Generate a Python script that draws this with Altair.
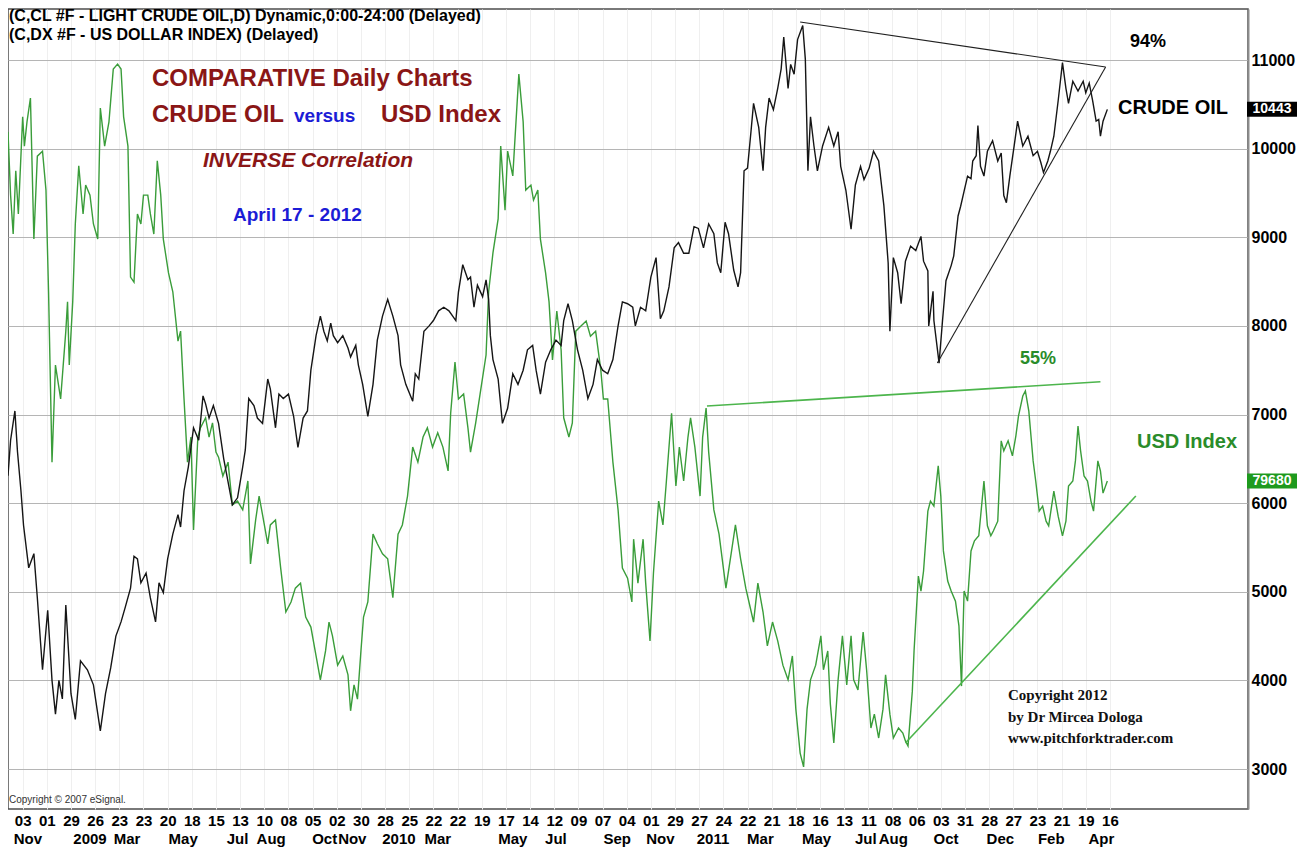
import json
import altair as alt
import pandas as pd

# ---------------- data ----------------
# day = calendar days after 2008-11-03 (first x-axis tick)
crude_day = [-17, -14, -9, -6, -2, 1, 7, 13, 17, 23,
             29, 34, 38, 42, 46, 50, 56, 61, 67, 75,
             82, 90, 96, 102, 108, 114, 119, 125, 129, 133,
             137, 143, 148, 154, 158, 163, 168, 174, 180, 183,
             187, 192, 198, 204, 209, 212, 216, 221, 227, 233,
             239, 243, 249, 255, 258, 262, 268, 272, 278, 284,
             287, 293, 297, 302, 308, 314, 319, 325, 330, 334,
             340, 345, 349, 353, 357, 360, 365, 371, 377, 380,
             386, 389, 394, 400, 406, 411, 417, 423, 429, 435,
             438, 444, 452, 455, 459, 465, 471, 476, 482, 488,
             494, 502, 505, 510, 516, 519, 523, 527, 533, 537,
             540, 542, 545, 551, 556, 562, 568, 574, 580, 585,
             591, 595, 600, 606, 612, 618, 624, 627, 632, 637,
             643, 649, 655, 661, 666, 672, 678, 684, 690, 695,
             701, 707, 710, 716, 722, 728, 734, 739, 743, 749,
             755, 760, 766, 772, 778, 783, 789, 795, 801, 805,
             809, 814, 818, 824, 829, 832, 836, 840, 844, 847,
             853, 858, 861, 865, 870, 875, 879, 882, 887, 890,
             894, 898, 904, 907, 910, 913, 917, 921, 927, 934,
             940, 945, 948, 954, 960, 965, 971, 975, 981, 986,
             992, 998, 1003, 1005, 1009, 1014, 1018, 1023, 1029, 1035,
             1041, 1044, 1049, 1050, 1055, 1056, 1062, 1066, 1070, 1076,
             1079, 1084, 1087, 1091, 1095, 1099, 1101, 1105, 1107, 1110,
             1114, 1118, 1124, 1130, 1134, 1137, 1140, 1144, 1149, 1153,
             1159, 1165, 1171, 1176, 1180, 1183, 1188, 1191, 1195, 1200,
             1205, 1209, 1212, 1217, 1223, 1229, 1232, 1236, 1240, 1244,
             1247, 1249, 1252, 1257]
crude_price = [63.1, 67.1, 70.4, 65.8, 61.4, 57.5, 52.7, 54.3, 49.3, 41.2,
               47.9, 40.0, 36.2, 40.0, 37.9, 48.5, 38.5, 35.6, 42.2, 41.2,
               39.5, 34.3, 38.5, 41.4, 45.0, 46.6, 48.3, 50.4, 54.0, 53.7,
               51.0, 52.1, 49.3, 46.6, 51.0, 49.9, 53.7, 56.5, 58.7, 57.3,
               61.4, 64.1, 68.5, 67.1, 72.1, 71.2, 69.6, 71.0, 69.0, 65.0,
               61.9, 59.8, 60.6, 64.1, 66.0, 71.8, 71.0, 69.6, 69.0, 74.0,
               72.9, 68.5, 72.3, 71.8, 72.3, 69.8, 66.3, 69.6, 70.4, 75.0,
               78.9, 81.1, 79.4, 78.3, 80.3, 78.9, 78.1, 78.9, 77.5, 76.5,
               77.8, 75.6, 73.4, 69.8, 73.4, 78.4, 81.1, 83.0, 81.1, 78.9,
               75.6, 73.4, 71.5, 74.6, 74.0, 79.4, 80.0, 80.6, 81.7, 82.1,
               81.7, 80.6, 83.8, 86.9, 85.2, 85.5, 82.1, 84.6, 83.3, 85.2,
               83.0, 78.9, 76.2, 74.0, 69.0, 70.7, 74.6, 73.4, 75.0, 77.3,
               77.8, 75.0, 72.3, 75.9, 77.3, 78.4, 77.8, 80.6, 82.5, 80.6,
               77.3, 75.0, 71.8, 73.4, 76.2, 75.0, 74.6, 76.2, 80.0, 82.7,
               82.5, 82.1, 80.0, 82.1, 81.7, 85.5, 87.7, 80.8, 81.7, 84.4,
               88.8, 89.4, 88.2, 88.2, 91.2, 91.0, 88.8, 91.5, 90.4, 87.1,
               86.0, 91.7, 90.4, 86.3, 84.4, 86.0, 97.5, 97.8, 101.9, 105.1,
               102.4, 97.5, 102.4, 105.7, 104.4, 106.8, 109.0, 112.6, 106.8, 109.5,
               108.4, 112.3, 113.9, 110.1, 97.5, 103.6, 100.3, 97.5, 100.3, 102.4,
               100.3, 101.9, 98.0, 95.3, 90.9, 95.9, 98.0, 96.5, 97.8, 99.7,
               98.6, 93.6, 87.1, 79.4, 87.7, 86.0, 82.5, 87.3, 89.0, 88.5,
               90.1, 87.3, 86.2, 80.0, 83.9, 80.6, 75.8, 80.6, 85.1, 86.8,
               87.9, 92.4, 93.5, 95.2, 96.9, 96.6, 98.6, 99.2, 102.6, 98.0,
               96.9, 99.7, 100.9, 98.6, 99.5, 94.7, 93.9, 96.9, 100.3, 103.1,
               100.3, 101.4, 99.2, 99.7, 98.4, 97.3, 98.6, 99.7, 101.4, 105.4,
               109.7, 106.8, 105.1, 107.6, 106.5, 107.6, 106.3, 107.4, 105.4, 103.1,
               103.3, 101.4, 103.1, 104.43]

usd_day = [-17, -14, -11, -8, -5, 0, 2, 5, 9, 13,
           17, 23, 27, 30, 34, 38, 44, 50, 52, 54,
           58, 61, 65, 70, 73, 78, 82, 87, 90, 95,
           100, 105, 110, 114, 117, 122, 125, 129, 133, 137,
           140, 145, 148, 152, 156, 160, 163, 169, 174, 180,
           183, 187, 191, 195, 198, 203, 206, 212, 216, 220,
           224, 227, 232, 238, 243, 249, 255, 261, 264, 270,
           274, 278, 284, 287, 293, 299, 305, 311, 316, 322,
           328, 334, 340, 345, 351, 355, 359, 365, 371, 377,
           380, 384, 388, 392, 395, 400, 406, 411, 417, 423,
           429, 435, 440, 446, 452, 458, 464, 469, 475, 481,
           487, 493, 496, 501, 505, 511, 516, 519, 525, 531,
           537, 540, 545, 551, 554, 559, 562, 568, 571, 575,
           580, 583, 589, 592, 597, 600, 606, 610, 614, 619,
           624, 627, 633, 637, 641, 647, 653, 658, 664, 670,
           673, 678, 684, 690, 695, 701, 706, 708, 713, 719,
           722, 727, 731, 737, 742, 746, 752, 757, 761, 766,
           771, 774, 779, 785, 788, 792, 795, 801, 807, 815,
           821, 826, 832, 838, 843, 847, 852, 858, 863, 869,
           875, 881, 887, 892, 896, 901, 905, 909, 913, 919,
           925, 928, 933, 936, 940, 945, 950, 955, 960, 963,
           968, 974, 978, 983, 987, 992, 997, 1000, 1005, 1009,
           1015, 1020, 1023, 1026, 1031, 1033, 1038, 1041, 1044, 1049,
           1052, 1056, 1061, 1064, 1067, 1072, 1076, 1081, 1085, 1088,
           1091, 1095, 1099, 1103, 1108, 1114, 1118, 1122, 1125, 1130,
           1134, 1137, 1142, 1147, 1151, 1154, 1159, 1162, 1166, 1171,
           1174, 1178, 1182, 1186, 1189, 1195, 1200, 1205, 1209, 1212,
           1217, 1220, 1223, 1226, 1230, 1234, 1238, 1241, 1246, 1249,
           1252, 1257]
usd_value = [88.02, 86.51, 85.58, 87.09, 86.06, 88.38, 87.68, 88.26, 88.83, 85.46,
             87.44, 87.56, 86.63, 84.20, 80.13, 82.45, 81.64, 83.26, 83.96, 82.45,
             83.96, 85.82, 87.21, 86.06, 86.75, 86.51, 85.82, 85.46, 88.59, 87.68,
             88.26, 89.52, 89.64, 89.52, 88.38, 87.68, 84.55, 84.43, 86.06, 85.82,
             86.51, 86.51, 86.06, 85.58, 87.33, 86.51, 85.46, 84.65, 84.20, 83.02,
             83.26, 81.64, 80.13, 80.73, 78.51, 80.73, 80.95, 81.19, 80.73, 81.07,
             80.37, 80.25, 79.80, 80.13, 79.11, 79.20, 78.99, 79.68, 77.70, 78.75,
             79.32, 78.87, 78.18, 78.63, 78.75, 77.60, 76.55, 76.79, 77.12, 77.24,
             76.43, 76.19, 75.50, 74.93, 75.62, 76.31, 75.98, 75.28, 75.50, 75.05,
             74.19, 74.81, 74.47, 75.62, 76.43, 76.79, 78.41, 78.18, 77.94, 77.82,
             76.89, 78.41, 78.63, 79.32, 80.49, 80.13, 80.73, 80.95, 80.49, 80.83,
             80.49, 79.92, 81.30, 82.52, 81.64, 81.76, 80.95, 80.37, 81.07, 81.88,
             82.69, 84.20, 85.13, 85.94, 87.68, 86.15, 87.56, 86.97, 88.02, 89.40,
             88.26, 86.63, 86.75, 86.39, 86.63, 85.46, 84.65, 83.96, 82.57, 83.74,
             82.81, 81.19, 80.73, 81.07, 83.26, 83.38, 83.50, 83.14, 83.26, 82.33,
             81.64, 81.64, 80.13, 78.99, 77.60, 77.36, 76.79, 78.29, 77.24, 78.29,
             77.24, 75.86, 77.48, 79.20, 78.63, 79.68, 81.30, 79.56, 80.49, 79.68,
             80.73, 81.19, 80.49, 79.32, 80.73, 81.42, 80.37, 78.99, 78.41, 77.12,
             77.94, 78.63, 77.82, 77.12, 76.67, 76.31, 77.24, 76.55, 75.74, 76.31,
             75.86, 75.28, 74.93, 75.50, 74.23, 73.18, 72.85, 74.23, 74.93, 75.28,
             75.98, 75.17, 75.62, 74.35, 73.42, 74.93, 75.98, 74.81, 75.98, 74.93,
             74.69, 76.07, 75.17, 73.78, 74.11, 73.54, 74.23, 75.05, 74.11, 73.54,
             73.78, 73.66, 73.47, 73.35, 74.66, 75.62, 77.41, 77.05, 77.53, 78.96,
             79.20, 79.08, 80.04, 79.32, 78.01, 77.29, 77.05, 76.81, 76.22, 74.78,
             77.05, 76.81, 78.01, 78.25, 78.37, 79.68, 78.61, 78.37, 78.49, 78.72,
             80.64, 80.40, 80.64, 80.28, 80.76, 81.23, 81.71, 81.83, 81.35, 80.16,
             79.68, 78.96, 79.08, 78.72, 78.61, 79.44, 78.84, 78.37, 78.72, 79.56,
             79.68, 80.16, 80.99, 80.40, 79.80, 79.68, 79.20, 78.96, 80.16, 79.92,
             79.39, 79.68]

# trend lines drawn on the chart (endpoints)
crude_trend_seg = ["top", "top", "rising", "rising"]
crude_trend_day = [901, 1255, 1060, 1255]
crude_trend_price = [114.29, 109.21, 75.81, 109.21]
usd_trend_seg = ["top", "top", "rising", "rising"]
usd_trend_day = [793, 1249, 1023, 1290]
usd_trend_value = [81.47, 82.05, 73.42, 79.32]

# x-axis labels
tick_labels = ["03", "01", "29", "26", "23", "23", "20", "18", "15", "13",
               "10", "08", "05", "02", "30", "28", "25", "22", "22", "19",
               "17", "14", "12", "09", "07", "04", "01", "29", "27", "24",
               "22", "21", "18", "16", "13", "11", "08", "06", "03", "31",
               "28", "27", "23", "21", "19", "16"]
tick_days = [28 * i for i in range(len(tick_labels))]
month_labels = ["Nov", "2009", "Mar", "May", "Jul", "Aug", "Oct", "Nov", "2010", "Mar",
                "May", "Jul", "Sep", "Nov", "2011", "Mar", "May", "Jul", "Aug", "Oct",
                "Dec", "Feb", "Apr"]
month_days = [6, 78, 121, 186, 249, 288, 350, 382, 436, 481,
              568, 618, 689, 739, 800, 855, 920, 977, 1009, 1070,
              1133, 1192, 1250]
price_ticks = [30, 40, 50, 60, 70, 80, 90, 100, 110]

# ---------------- chart ----------------
W, H = 1240, 800
FONT = "Liberation Sans"
SERIF = "Liberation Serif"
DARKRED = "#8a1616"
BLUE = "#1c1cd6"
GREEN_LINE = "#3a9d3a"
GREEN_TEXT = "#2a8c2a"

crude_df = pd.DataFrame({"day": crude_day, "price": crude_price})
usd_df = pd.DataFrame({"day": usd_day, "usd": usd_value})
ctrend_df = pd.DataFrame({"seg": crude_trend_seg, "day": crude_trend_day, "price": crude_trend_price})
utrend_df = pd.DataFrame({"seg": usd_trend_seg, "day": usd_trend_day, "usd": usd_trend_value})
month_df = pd.DataFrame({"day": month_days, "m": month_labels})

x_scale = alt.Scale(domain=[-17, 1420], nice=False, zero=False)
crude_scale = alt.Scale(domain=[25.487, 115.755], nice=False, zero=False)
usd_scale = alt.Scale(domain=[71.844, 90.956], nice=False, zero=False)

x_axis = alt.Axis(
    values=tick_days,
    labelExpr=json.dumps(tick_labels) + "[round(datum.value / 28)]",
    title=None, grid=True, gridColor="#efefef", gridWidth=1,
    ticks=False, tickSize=0, domain=False,
    labelFont=FONT, labelFontSize=15, labelFontWeight="bold", labelColor="black",
    labelPadding=4, labelOverlap=False, labelFlush=False,
)
crude_axis = alt.Axis(
    orient="right", values=price_ticks,
    labelExpr="format(datum.value * 100, 'd')",
    title=None, grid=True, gridColor="#b5b5b5", gridWidth=1,
    ticks=False, tickSize=0, domain=True, domainColor="#8c8c8c", domainWidth=2,
    labelFont=FONT, labelFontSize=16, labelFontWeight="bold", labelColor="black",
    labelPadding=3,
)

X = alt.X("day:Q", scale=x_scale, axis=x_axis)
YC = alt.Y("price:Q", scale=crude_scale, axis=crude_axis)
YU = alt.Y("usd:Q", scale=usd_scale, axis=None)

TAG_SHAPE = "M-1,-0.3L1,-0.3L1,0.3L-1,0.3Z"

crude_line = alt.Chart(crude_df).mark_line(color="#151515", strokeWidth=1.4, clip=True).encode(x=X, y=YC)
crude_trend = alt.Chart(ctrend_df).mark_line(color="#202020", strokeWidth=1.1, clip=True).encode(
    x=X, y=YC, detail="seg:N")
crude_last = crude_df.tail(1)
crude_tag = alt.Chart(crude_last).mark_point(
    shape=TAG_SHAPE, size=2500, filled=True, color="#000000", opacity=1, strokeWidth=0
).encode(x=alt.value(W + 24), y=YC)
crude_tag_text = alt.Chart(crude_last).transform_calculate(
    label="format(datum.price * 100, 'd')"
).mark_text(color="white", font=FONT, fontSize=14, fontWeight="bold", align="center",
            baseline="middle").encode(x=alt.value(W + 24), y=YC, text="label:N")

usd_line = alt.Chart(usd_df).mark_line(color=GREEN_LINE, strokeWidth=1.4, clip=True).encode(x=X, y=YU)
usd_trend = alt.Chart(utrend_df).mark_line(color="#4cb54c", strokeWidth=1.6, clip=True).encode(
    x=X, y=YU, detail="seg:N")
usd_last = usd_df.tail(1)
usd_tag = alt.Chart(usd_last).mark_point(
    shape=TAG_SHAPE, size=2500, filled=True, color="#1e9a1e", opacity=1, strokeWidth=0
).encode(x=alt.value(W + 24), y=YU)
usd_tag_text = alt.Chart(usd_last).transform_calculate(
    label="format(datum.usd * 1000, 'd')"
).mark_text(color="white", font=FONT, fontSize=14, fontWeight="bold", align="center",
            baseline="middle").encode(x=alt.value(W + 24), y=YU, text="label:N")

month_layer = alt.Chart(month_df).mark_text(
    font=FONT, fontSize=15, fontWeight="bold", color="black", align="center", baseline="middle"
).encode(x=X, y=alt.value(H + 30), text="m:N")


def note(text, px, py, size, color="black", font=FONT, style="normal", weight="bold"):
    return alt.Chart(pd.DataFrame({"t": [text]})).mark_text(
        font=font, fontSize=size, fontWeight=weight, fontStyle=style, color=color,
        align="left", baseline="middle"
    ).encode(x=alt.value(px), y=alt.value(py), text="t:N")


notes = [
    note("(C,CL #F - LIGHT CRUDE OIL,D) Dynamic,0:00-24:00 (Delayed)", 1, 7, 16),
    note("(C,DX #F - US DOLLAR INDEX)  (Delayed)", 1, 26, 16),
    note("COMPARATIVE Daily Charts", 144, 70, 24, DARKRED),
    note("CRUDE OIL", 144, 106, 24, DARKRED),
    note("versus", 286, 107, 19, BLUE),
    note("USD Index", 373, 106, 24, DARKRED),
    note("INVERSE Correlation", 195, 152, 21, DARKRED, style="italic"),
    note("April 17 - 2012", 225, 206, 19, BLUE),
    note("94%", 1122, 33, 18),
    note("CRUDE OIL", 1110, 99, 20),
    note("55%", 1012, 350, 18, GREEN_TEXT),
    note("USD Index", 1129, 433, 20, GREEN_TEXT),
    note("Copyright 2012", 1000, 686, 15, "#111111", font=SERIF),
    note("by Dr Mircea Dologa", 1000, 708, 15, "#111111", font=SERIF),
    note("www.pitchforktrader.com", 1000, 729, 15, "#111111", font=SERIF),
    note("Copyright \u00a9 2007 eSignal.", 1, 791, 10, "#333333", weight="normal"),
]

crude_group = alt.layer(crude_line, crude_trend, crude_tag, crude_tag_text)
usd_group = alt.layer(usd_line, usd_trend, usd_tag, usd_tag_text)

chart = alt.layer(usd_group, crude_group, month_layer, *notes).resolve_scale(
    y="independent"
).properties(width=W, height=H, padding=0).configure_view(
    stroke="#4d4d4d", strokeWidth=1.5
)

chart.save("out.html", embed_options={"renderer": "svg", "actions": False})
